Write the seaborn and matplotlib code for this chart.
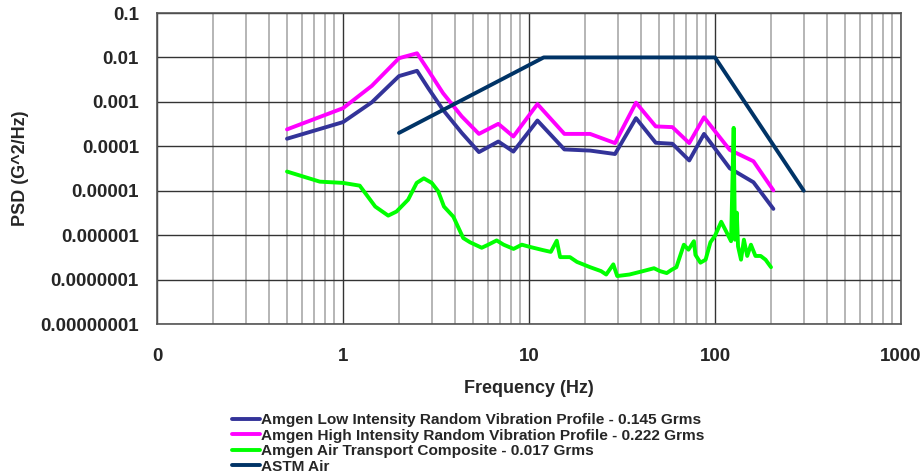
import matplotlib
matplotlib.use("Agg")
import matplotlib.pyplot as plt
from matplotlib.ticker import FixedLocator, LogLocator, NullFormatter
import seaborn as sns
import pandas as pd

sns.set_style("white")
plt.rcParams['font.family'] = ['Liberation Sans', 'DejaVu Sans']
plt.rcParams['font.weight'] = 'bold'

# low intensity profile
low_hz = [0.5, 1.0, 1.43, 2.0, 2.5, 2.88, 3.45, 4.35, 5.38, 6.84, 8.24, 11.1, 15.5,
          21.3, 29, 37.6, 48, 59, 72.7, 87.3, 120, 161, 206]
low_psd = [1.48e-4, 3.5e-4, 9.8e-4, 3.8e-3, 5.0e-3, 2.0e-3, 6.6e-4, 2.0e-4, 7.4e-5, 1.28e-4,
           7.6e-5, 3.8e-4, 8.5e-5, 8.0e-5, 6.7e-5, 4.3e-4, 1.2e-4, 1.14e-4, 4.8e-5, 1.9e-4,
           3.2e-5, 1.55e-5, 3.9e-6]

# high intensity profile
high_hz = low_hz
high_psd = [2.4e-4, 7.2e-4, 2.3e-3, 9.6e-3, 1.24e-2, 5.06e-3, 1.57e-3, 4.7e-4, 1.9e-4, 3.2e-4,
            1.66e-4, 8.9e-4, 1.9e-4, 1.9e-4, 1.18e-4, 9.6e-4, 2.8e-4, 2.7e-4, 1.18e-4, 4.5e-4,
            8.3e-5, 4.6e-5, 1.02e-5]

# air transport composite
air_hz = [0.5, 0.75, 1.0, 1.23, 1.49, 1.75, 1.94, 2.24, 2.49, 2.72, 3.0, 3.25, 3.49, 3.92,
          4.43, 4.82, 5.57, 6.04, 6.7, 7.3, 8.26, 9.15, 10.0, 11.9, 13.1, 14.1, 14.7, 16.6,
          18.1, 21.3, 24.4, 26, 28.4, 29.8, 34.7, 41, 47, 50.6, 55, 58.3, 62, 68, 72, 77,
          78.5, 83.5, 89, 94.5, 100, 108, 115, 122, 126, 128, 131, 133, 138, 143, 149, 156,
          165, 176, 187, 200]
air_psd = [2.7e-5, 1.6e-5, 1.5e-5, 1.3e-5, 4.4e-6, 2.75e-6, 3.4e-6, 6.3e-6, 1.5e-5, 1.9e-5,
           1.5e-5, 9.7e-6, 4.4e-6, 2.6e-6, 8.6e-7, 6.9e-7, 5.2e-7, 6.1e-7, 7.6e-7, 6.1e-7,
           4.9e-7, 6.1e-7, 5.5e-7, 4.6e-7, 4.2e-7, 7.5e-7, 3.2e-7, 3.2e-7, 2.5e-7, 1.9e-7,
           1.55e-7, 1.3e-7, 2.2e-7, 1.2e-7, 1.3e-7, 1.55e-7, 1.8e-7, 1.55e-7, 1.4e-7, 1.65e-7,
           1.9e-7, 6.1e-7, 4.7e-7, 7.3e-7, 3.6e-7, 2.4e-7, 2.8e-7, 6.9e-7, 9.7e-7, 2.0e-6,
           1.2e-6, 7.3e-7, 2.6e-4, 7.9e-7, 3.2e-6, 5.6e-7, 2.8e-7, 7.9e-7, 3.4e-7, 6.1e-7,
           3.4e-7, 3.4e-7, 2.8e-7, 1.9e-7]

# ASTM air
astm_hz = [2, 12, 100, 300]
astm_psd = [2e-4, 1e-2, 1e-2, 1e-5]

labels = ["Amgen Low Intensity Random Vibration Profile - 0.145 Grms",
          "Amgen High Intensity Random Vibration Profile - 0.222 Grms",
          "Amgen Air Transport Composite - 0.017 Grms",
          "ASTM Air"]
colors = ["#333399", "#FF00FF", "#00FF00", "#003366"]

series = [(low_hz, low_psd), (high_hz, high_psd), (air_hz, air_psd), (astm_hz, astm_psd)]
frames = []
for lab, (hz, psd) in zip(labels, series):
    frames.append(pd.DataFrame({"Frequency": hz, "PSD": psd, "series": lab}))
df = pd.concat(frames, ignore_index=True)

fig = plt.figure(figsize=(9.24, 4.75), dpi=100)
ax = fig.add_axes([157/924, 1 - 324/475, 744/924, 311/475])

sns.lineplot(data=df, x="Frequency", y="PSD", hue="series", hue_order=labels,
             palette=dict(zip(labels, colors)), estimator=None, sort=False,
             linewidth=2.8, ax=ax, legend=False)

ax.set_xscale("log")
ax.set_yscale("log")
ax.set_xlim(0.1, 1000)
ax.set_ylim(1e-8, 0.1)

# grid
ax.xaxis.set_major_locator(FixedLocator([0.1, 1, 10, 100, 1000]))
ax.xaxis.set_minor_locator(LogLocator(base=10, subs=range(2, 10), numticks=20))
ax.xaxis.set_minor_formatter(NullFormatter())
ax.yaxis.set_major_locator(FixedLocator([1e-8, 1e-7, 1e-6, 1e-5, 1e-4, 1e-3, 1e-2, 1e-1]))
ax.yaxis.set_minor_locator(FixedLocator([]))
ax.grid(which="major", color="#333333", linewidth=1.0)
ax.grid(which="minor", axis="x", color="#b0b0b0", linewidth=1.3)
ax.set_axisbelow(True)

ax.set_xticklabels(["0", "1", "10", "100", "1000"])
ax.set_yticklabels(["0.00000001", "0.0000001", "0.000001", "0.00001", "0.0001",
                    "0.001", "0.01", "0.1"])
ax.tick_params(axis="x", which="both", length=0, pad=17, labelsize=13.5)
ax.tick_params(axis="y", which="both", length=0, pad=13, labelsize=13.5)
for s in ax.spines.values():
    s.set_color("#555555")
    s.set_linewidth(1.2)

ax.set_xlabel("Frequency (Hz)", fontsize=13, fontweight="bold", labelpad=11)
ax.set_ylabel("PSD (G^2/Hz)", fontsize=13, fontweight="bold")
ax.yaxis.label.set_va("center")
ax.yaxis.set_label_coords((21 - 157) / 744, 0.5)

handles = ax.lines[:4]
fig.legend(handles, labels, loc="upper left", bbox_to_anchor=(232/924, 1 - 413/475),
           frameon=False, handlelength=1.8, handletextpad=0.1,
           labelspacing=0.1, borderaxespad=0, borderpad=0,
           prop={"weight": "bold", "size": 11.1})

fig.savefig("out.png", dpi=100)
